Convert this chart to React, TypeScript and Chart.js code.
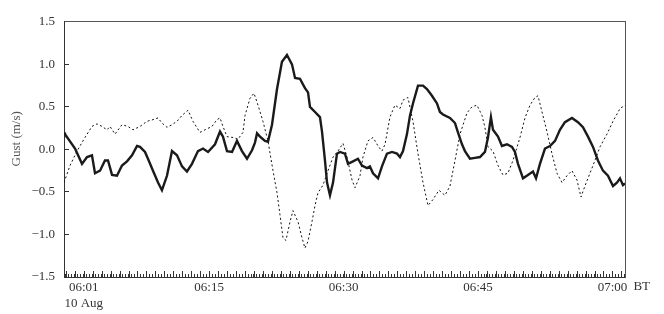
import { useEffect, useRef } from "react";
import { Chart, registerables } from "chart.js";
Chart.register(...registerables);

// time in minutes after 06:00 (10 Aug, BT)
const solidMinutes = [-1.2, -1.09, 0.03, 0.81, 1.37, 1.92, 2.26, 2.82, 3.37, 3.71, 4.16, 4.71, 5.27, 5.83, 6.39, 6.95, 7.28, 7.84, 8.17, 8.73, 9.29, 9.73, 10.29, 10.85, 11.41, 11.97, 12.52, 13.08, 13.75, 14.31, 14.87, 15.65, 16.21, 16.54, 16.99, 17.55, 18.10, 18.66, 19.22, 19.78, 20.11, 20.34, 20.67,
  21.23, 21.56, 22.01, 22.57, 23.12, 23.68, 24.24, 24.58, 25.13, 25.69, 26.03, 26.25, 26.81, 27.36, 27.59, 27.92, 28.15, 28.48, 28.82, 29.26, 29.60, 30.15, 30.49, 31.05, 31.60, 32.05, 32.61, 32.94, 33.28, 33.84, 34.28, 34.84, 35.40, 35.96, 36.29, 36.63, 37.07, 37.41, 37.74, 38.30, 38.86, 39.30, 39.86, 40.42, 40.75, 41.09,
  41.87, 42.43, 42.76, 43.21, 43.54, 44.10, 44.66, 45.22, 45.77, 46.11, 46.44, 46.67, 47.23, 47.67, 48.23, 48.79, 49.12, 49.46, 50.02, 50.57, 51.13, 51.47, 51.91, 52.47, 53.03, 53.59, 54.14, 54.70, 55.48, 56.15, 56.71, 57.27, 57.83, 58.38, 58.94, 59.50, 60.06, 60.50, 60.84, 61.17, 61.40];
const solidGust = [0.20, 0.18, 0.01, -0.17, -0.09, -0.07, -0.28, -0.25, -0.13, -0.13, -0.30, -0.31, -0.19, -0.14, -0.07, 0.04, 0.03, -0.03, -0.11, -0.25, -0.39, -0.48, -0.31, -0.02, -0.07, -0.20, -0.26, -0.17, -0.02, 0.01, -0.03, 0.06, 0.21, 0.15, -0.02, -0.03, 0.10, -0.02, -0.11, -0.01, 0.08, 0.19, 0.15,
  0.10, 0.09, 0.29, 0.71, 1.03, 1.11, 1.00, 0.84, 0.83, 0.72, 0.67, 0.50, 0.44, 0.38, 0.21, -0.13, -0.39, -0.54, -0.39, -0.05, -0.03, -0.05, -0.17, -0.14, -0.11, -0.19, -0.22, -0.20, -0.28, -0.34, -0.20, -0.05, -0.03, -0.05, -0.09, -0.02, 0.18, 0.40, 0.54, 0.75, 0.75, 0.71, 0.63, 0.54, 0.44, 0.41,
  0.37, 0.31, 0.20, 0.06, -0.02, -0.11, -0.10, -0.09, -0.03, 0.14, 0.38, 0.23, 0.15, 0.04, 0.06, 0.03, -0.03, -0.17, -0.34, -0.30, -0.26, -0.34, -0.17, 0.01, 0.04, 0.10, 0.23, 0.32, 0.37, 0.32, 0.26, 0.15, 0.03, -0.13, -0.25, -0.31, -0.43, -0.39, -0.34, -0.42, -0.40];

const dottedMinutes = [-1.2, -0.53, 0.25, 1.14, 1.92, 2.48, 3.04, 3.60, 3.93, 4.49, 5.27, 5.94, 6.50, 7.28, 8.06, 8.73, 9.29, 9.73, 10.29, 10.85, 11.41, 11.97, 12.64, 13.19, 13.97, 14.53, 15.31, 15.87, 16.21, 16.54,
  16.99, 17.66, 18.21, 18.77, 19.00, 19.55, 20.00, 20.45, 21.00, 21.56, 22.12, 22.57, 22.90, 23.24, 23.57, 24.02, 24.35, 24.91, 25.36, 25.69, 26.03, 26.47, 26.81, 27.14, 27.70, 28.26, 28.82, 29.37, 29.93, 30.38,
  30.94, 31.27, 31.83, 32.16, 32.72, 33.28, 33.84, 34.28, 34.62, 35.17, 35.73, 36.29, 36.63, 37.18, 37.74, 38.30, 38.86, 39.42, 39.97, 40.64, 41.31, 41.87, 42.43, 42.99, 43.77, 44.32, 44.88, 45.44, 45.77, 46.11,
  46.67, 47.23, 47.78, 48.34, 48.90, 49.68, 50.24, 50.80, 51.35, 51.69, 52.14, 52.69, 53.25, 53.81, 54.37, 54.92, 55.48, 56.04, 56.49, 56.93, 57.49, 58.05, 58.61, 59.39, 60.06, 60.84, 61.40];
const dottedGust = [-0.39, -0.19, -0.02, 0.14, 0.27, 0.30, 0.27, 0.23, 0.27, 0.18, 0.29, 0.27, 0.23, 0.27, 0.33, 0.35, 0.37, 0.31, 0.26, 0.29, 0.33, 0.40, 0.46, 0.33, 0.20, 0.23, 0.27, 0.35, 0.37, 0.27,
  0.15, 0.14, 0.12, 0.20, 0.40, 0.60, 0.66, 0.52, 0.33, 0.10, -0.25, -0.51, -0.77, -1.04, -1.07, -0.85, -0.72, -0.85, -1.04, -1.16, -1.08, -0.85, -0.66, -0.51, -0.42, -0.25, -0.09, -0.02, 0.07, -0.09,
  -0.36, -0.45, -0.31, -0.09, 0.10, 0.14, 0.04, -0.02, 0.06, 0.38, 0.52, 0.48, 0.58, 0.61, 0.33, -0.05, -0.39, -0.66, -0.59, -0.48, -0.54, -0.43, -0.13, 0.18, 0.43, 0.50, 0.52, 0.40, 0.26, 0.03,
  -0.02, -0.19, -0.30, -0.28, -0.13, 0.14, 0.37, 0.52, 0.61, 0.63, 0.44, 0.21, -0.05, -0.28, -0.39, -0.31, -0.25, -0.36, -0.56, -0.43, -0.28, -0.13, 0.03, 0.18, 0.33, 0.48, 0.52];

const xMin = -1.2;
const xMax = 61.4;
const yMin = -1.5;
const yMax = 1.5;
const yStep = 0.5;
const xLabelMinutes = [1, 15, 30, 45, 60];
const xLabels: (string | string[])[] = [["06:01", "10 Aug"], "06:15", "06:30", "06:45", "07:00"];
const timeZoneLabel = "BT";
const yTitle = "Gust (m/s)";

const FONT = "'Liberation Serif', 'DejaVu Serif', serif";
const INK = "#333";

function zip(xs: number[], ys: number[]) {
  const n = Math.min(xs.length, ys.length);
  const out: { x: number; y: number }[] = [];
  for (let i = 0; i < n; i++) out.push({ x: xs[i], y: ys[i] });
  return out;
}

const decorPlugin = {
  id: "decor",
  afterDraw(chart: any) {
    const { ctx, chartArea, scales } = chart;
    const xs = scales.x;
    ctx.save();
    // longer minute ticks
    ctx.strokeStyle = INK;
    ctx.lineWidth = 1;
    ctx.beginPath();
    for (let m = Math.ceil(xMin); m <= Math.floor(xMax); m++) {
      const px = Math.round(xs.getPixelForValue(m)) + 0.5;
      ctx.moveTo(px, chartArea.bottom);
      ctx.lineTo(px, chartArea.bottom - 6);
    }
    ctx.stroke();
    // time zone label
    ctx.fillStyle = INK;
    ctx.font = `13px ${FONT}`;
    ctx.textBaseline = "middle";
    ctx.textAlign = "left";
    ctx.fillText(timeZoneLabel, xs.getPixelForValue(60) + 21, chartArea.bottom + 10);
    // y title
    ctx.fillStyle = "#555";
    ctx.translate(chartArea.left - 47, chartArea.top + 117);
    ctx.rotate(-Math.PI / 2);
    ctx.textAlign = "center";
    ctx.fillText(yTitle, 0, 0);
    ctx.restore();
  },
};

export default function App() {
  const ref = useRef<HTMLCanvasElement | null>(null);
  useEffect(() => {
    if (!ref.current) return;
    const tickFont = { family: FONT, size: 13 };
    const chart = new Chart(ref.current, {
      type: "line",
      data: {
        datasets: [
          {
            label: "solid",
            data: zip(solidMinutes, solidGust),
            borderColor: "#1a1a1a",
            borderWidth: 2.4,
            pointRadius: 0,
            tension: 0,
            fill: false,
          },
          {
            label: "dotted",
            data: zip(dottedMinutes, dottedGust),
            borderColor: "#111",
            borderWidth: 1,
            borderDash: [2, 2.5],
            pointRadius: 0,
            tension: 0,
            fill: false,
          },
        ],
      },
      options: {
        responsive: false,
        animation: false,
        layout: { padding: 0 },
        plugins: { legend: { display: false }, tooltip: { enabled: false }, title: { display: false } },
        scales: {
          x: {
            type: "linear",
            position: "bottom",
            min: xMin,
            max: xMax,
            afterBuildTicks: (s: any) => {
              const ticks = [];
              for (let k = Math.ceil(xMin * 3); k <= Math.floor(xMax * 3); k++) ticks.push({ value: k / 3 });
              s.ticks = ticks;
            },
            ticks: {
              autoSkip: false,
              maxRotation: 0,
              padding: 6,
              color: INK,
              font: tickFont,
              callback: (v: any) => {
                const i = xLabelMinutes.indexOf(Number(v));
                return i >= 0 ? xLabels[i] : "";
              },
            },
            grid: { drawOnChartArea: false, tickLength: -3, color: INK },
            border: { color: INK, width: 1 },
            afterFit: (s: any) => { s.height = 37; },
          },
          x2: {
            type: "linear",
            position: "top",
            min: xMin,
            max: xMax,
            ticks: { display: false },
            grid: { drawOnChartArea: false, drawTicks: false },
            border: { color: "#555", width: 1 },
            afterFit: (s: any) => { s.height = 14; },
          },
          y: {
            type: "linear",
            position: "left",
            min: yMin,
            max: yMax,
            ticks: {
              stepSize: yStep,
              padding: 14,
              color: INK,
              font: tickFont,
              callback: (v: any) => Number(v).toFixed(1).replace("-", "\u2212"),
            },
            grid: { drawOnChartArea: false, tickLength: -5, color: INK },
            border: { color: INK, width: 1 },
            afterFit: (s: any) => { s.width = 64; },
          },
          y2: {
            type: "linear",
            position: "right",
            min: yMin,
            max: yMax,
            ticks: { display: false },
            grid: { drawOnChartArea: false, drawTicks: false },
            border: { color: "#555", width: 1 },
            afterFit: (s: any) => { s.width = 39; },
          },
        },
      },
      plugins: [decorPlugin],
    });
    return () => chart.destroy();
  }, []);
  return (
    <div style={{ position: "absolute", left: 0, top: 0, width: 664, height: 314, background: "#fff" }}>
      <canvas ref={ref} width={664} height={314} />
    </div>
  );
}
